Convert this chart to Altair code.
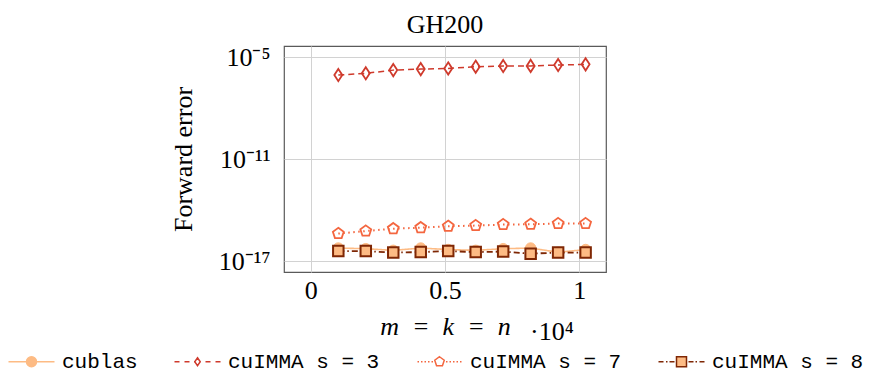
import altair as alt
import pandas as pd

# ---------------- data ----------------
matrix_size = [1024, 2048, 3072, 4096, 5120, 6144, 7168, 8192, 9216, 10240]
err_cublas = [6.0e-17, 5.5e-17, 4.4e-17, 6.0e-17, 4.9e-17, 4.4e-17, 5.5e-17, 6.0e-17, 3.4e-17, 4.9e-17]
err_s3 = [9.1e-7, 1.15e-6, 1.78e-6, 2.04e-6, 2.24e-6, 2.82e-6, 3.09e-6, 3.16e-6, 3.55e-6, 3.89e-6]
err_s7 = [4.3e-16, 6.0e-16, 8.3e-16, 9.5e-16, 1.15e-15, 1.26e-15, 1.45e-15, 1.51e-15, 1.66e-15, 1.66e-15]
err_s8 = [3.98e-17, 3.98e-17, 3.24e-17, 3.47e-17, 3.98e-17, 3.47e-17, 3.72e-17, 2.82e-17, 3.24e-17, 3.24e-17]
series_names = ["cublas", "cuIMMA s = 3", "cuIMMA s = 7", "cuIMMA s = 8"]
x_ticks = [0, 5000, 10000]
y_ticks = [1e-17, 1e-11, 1e-5]

rows = []
for name, vals in zip(series_names, [err_cublas, err_s3, err_s7, err_s8]):
    for xv, yv in zip(matrix_size, vals):
        rows.append({"series": name, "size": xv, "err": yv})
df = pd.DataFrame(rows)
legend_df = pd.DataFrame({"series": series_names})

# ---------------- styles ----------------
PENTAGON = "M0,-1L0.951,-0.309L0.588,0.809L-0.588,0.809L-0.951,-0.309Z"
DIAMOND = "M0,-1L0.65,0L0,1L-0.65,0Z"

styles = [
    dict(stroke="#fdbb84", dash=[1, 0], shape="circle", fill="#fdbb84", size=110, lw=1.6, mw=1.0),
    dict(stroke="#cf3a2c", dash=[6, 4], shape=DIAMOND, fill="transparent", size=150, lw=1.5, mw=1.8),
    dict(stroke="#f4663f", dash=[1.5, 3.5], shape=PENTAGON, fill="transparent", size=130, lw=2.0, mw=1.8),
    dict(stroke="#7f2704", dash=[6, 3, 1.5, 3], shape="square", fill="#fdbb84", size=110, lw=1.8, mw=2.0),
]

# legend glyphs: line pieces + marker, in symbol units (1 unit = 5 px at size 100)
CIRCLE_U = "M-1,0A1,1 0 1,1 1,0A1,1 0 1,1 -1,0Z"
legend_paths = [
    "M-4.6,0H-1M1,0H4.6" + CIRCLE_U,
    "M-4.6,0H-3.6M-2.6,0H-1.6M-0.7,0H-0.55M1.6,0H2.6M3.6,0H4.6M0,-0.8L0.55,0L0,0.8L-0.55,0Z",
    "M-4.4,0h0.3M-3.7,0h0.3M-3.0,0h0.3M-2.3,0h0.3M-1.6,0h0.3"
    "M1.3,0h0.3M2.0,0h0.3M2.7,0h0.3M3.4,0h0.3M4.1,0h0.3" + PENTAGON,
    "M-4.6,0H-3.6M-3.1,0h0.3M-2.4,0H-1.4M1.4,0H2.4M2.8,0h0.3M3.6,0H4.6M-1,-1H1V1H-1Z",
]
legend_fills = ["#fdbb84", "transparent", "transparent", "#fdbb84"]
legend_strokes = [s["stroke"] for s in styles]

SERIF = "Liberation Serif"
FS = 26

x_enc = alt.X(
    "size:Q",
    scale=alt.Scale(domain=[-1000, 11000], nice=False, zero=False),
    axis=alt.Axis(
        values=x_ticks,
        labelExpr="datum.value / 10000",
        title="m\u2002=\u2002k\u2002=\u2002n",
        titleFontStyle="italic",
        titleFont=SERIF,
        titleFontSize=FS,
        titleFontWeight="normal",
        titlePadding=10,
        labelFont=SERIF,
        labelFontSize=FS,
        labelPadding=5,
        ticks=False,
        domain=False,
        grid=True,
        gridColor="#d2d2d2",
        labelColor="black",
        titleColor="black",
    ),
)
y_enc = alt.Y(
    "err:Q",
    scale=alt.Scale(type="log", domain=[2.34e-18, 4.68e-5], nice=False),
    axis=alt.Axis(
        values=y_ticks,
        labelExpr="datum.value < 1e-14 ? '10⁻¹⁷' : (datum.value < 1e-8 ? '10⁻¹¹' : '10⁻⁵')",
        title="Forward error",
        titleFont=SERIF,
        titleFontSize=FS,
        titleFontWeight="normal",
        titlePadding=22,
        labelFont=SERIF,
        labelFontSize=FS,
        labelPadding=14,
        ticks=False,
        domain=False,
        grid=True,
        gridColor="#d2d2d2",
        labelColor="black",
        titleColor="black",
    ),
)

layers = []
for name, st in zip(series_names, styles):
    sub = alt.Chart(df).transform_filter(alt.datum.series == name)
    layers.append(
        sub.mark_line(strokeWidth=st["lw"], strokeDash=st["dash"], color=st["stroke"]).encode(
            x=x_enc, y=y_enc
        )
    )
    layers.append(
        sub.mark_point(
            shape=st["shape"],
            size=st["size"],
            stroke=st["stroke"],
            fill=st["fill"],
            strokeWidth=st["mw"],
            opacity=1,
            filled=False,
        ).encode(x=x_enc, y=y_enc)
    )

leg = alt.Legend(
    orient="none",
    legendX=-281,
    legendY=305,
    direction="horizontal",
    columns=4,
    title=None,
    labelFont="Liberation Mono",
    labelFontSize=21,
    labelColor="black",
    labelLimit=0,
    symbolSize=100,
    symbolStrokeWidth=1.5,
    symbolOffset=18,
    labelOffset=20,
    columnPadding=31,
)

legend_layer = alt.Chart(legend_df).mark_point(clip=True, opacity=1, size=100, strokeWidth=1.5).encode(
    x=alt.value(-400),
    y=alt.value(-400),
    shape=alt.Shape("series:N", scale=alt.Scale(domain=series_names, range=legend_paths), legend=leg),
    stroke=alt.Stroke("series:N", scale=alt.Scale(domain=series_names, range=legend_strokes), legend=leg),
    fill=alt.Fill("series:N", scale=alt.Scale(domain=series_names, range=legend_fills), legend=leg),
)

exp_note = alt.Chart(legend_df.head(1)).mark_text(
    text="·10⁴", font=SERIF, fontSize=FS, align="left", baseline="alphabetic", color="black"
).encode(x=alt.value(246), y=alt.value(294))

chart = (
    alt.layer(*layers, legend_layer, exp_note)
    .properties(
        width=322,
        height=226,
        title=alt.TitleParams("GH200", font=SERIF, fontSize=FS, fontWeight="normal", anchor="middle", offset=6, color="black"),
        autosize=alt.AutoSizeParams(type="none"),
        padding={"left": 276, "top": 38, "right": 257, "bottom": 101},
    )
    .configure_view(stroke="#5a5a5a", strokeWidth=1.2)
)

chart.save("out.html", embed_options={"renderer": "svg", "actions": False})
